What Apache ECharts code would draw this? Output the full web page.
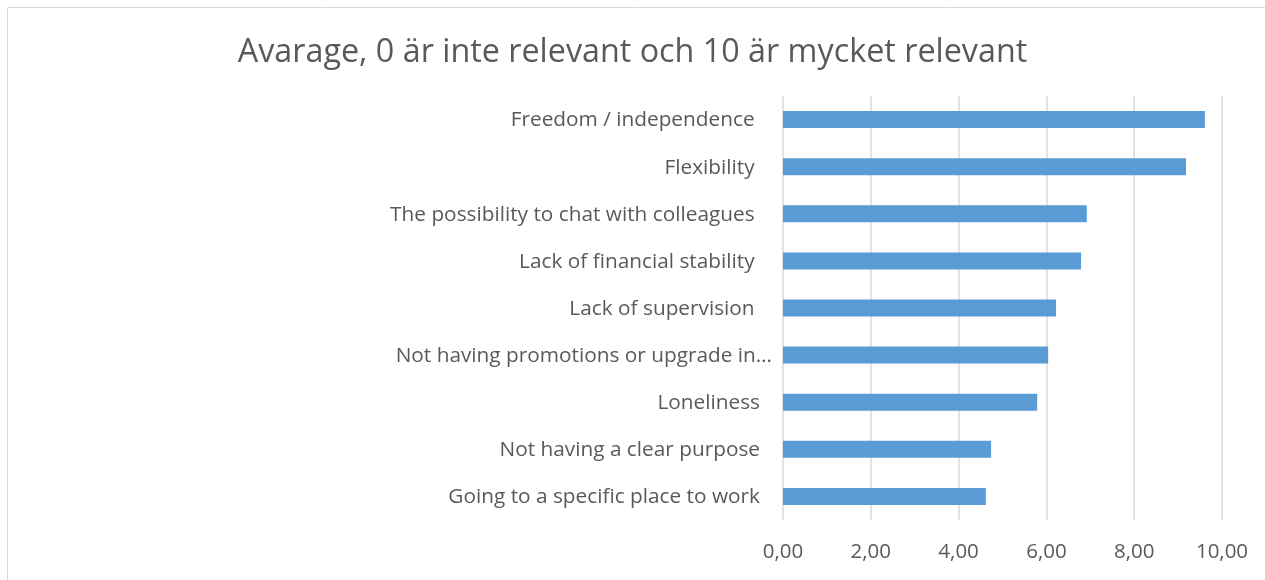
<!DOCTYPE html>
<html>
<head>
<meta charset="utf-8">
<script src="https://cdn.jsdelivr.net/npm/echarts@6/dist/echarts.min.js"></script>
<style>
html,body{margin:0;padding:0;background:#fff;}
#chart{width:1265px;height:580px;}
</style>
</head>
<body>
<div id="chart"></div>
<script>
const categories = [
  "Freedom / independence ",
  "Flexibility ",
  "The possibility to chat with colleagues ",
  "Lack of financial stability ",
  "Lack of supervision ",
  "Not having promotions or upgrade in…",
  "Loneliness",
  "Not having a clear purpose",
  "Going to a specific place to work"
];
const values = [9.61, 9.18, 6.92, 6.79, 6.22, 6.04, 5.79, 4.74, 4.62];
const titleText = "Avarage, 0 är inte relevant och 10 är mycket relevant";

const chart = echarts.init(document.getElementById('chart'));
chart.setOption({
  animation: false,
  backgroundColor: '#fff',
  title: {
    text: titleText,
    left: 'center',
    top: 32,
    textStyle: {fontFamily: 'Open Sans', fontSize: 32.3, fontWeight: 'normal', color: '#595959'}
  },
  graphic: [{
    type: 'rect',
    shape: {x: 7.5, y: 7.5, width: 1300, height: 620},
    style: {fill: 'none', stroke: '#d9d9d9', lineWidth: 1}
  }],
  grid: {left: 783, right: 43, top: 96, bottom: 60},
  xAxis: {
    type: 'value', min: 0, max: 10, interval: 2,
    axisLine: {show: false}, axisTick: {show: false},
    splitLine: {show: true, lineStyle: {color: '#d9d9d9', width: 1.5}},
    axisLabel: {
      margin: 22, fontFamily: 'Open Sans', fontSize: 20.5, color: '#595959',
      formatter: v => v.toFixed(2).replace('.', ',')
    }
  },
  yAxis: {
    type: 'category', data: categories, inverse: true,
    axisLine: {show: false}, axisTick: {show: false},
    axisLabel: {
      margin: 11, fontFamily: 'Open Sans', fontSize: 20.8, color: '#595959',
      formatter: v => v.endsWith('…') ? '{t|' + v + '}' : '{n|' + v + '}',
      rich: {
        n: {fontFamily: 'Open Sans', fontSize: 20.8, color: '#595959', padding: [2, 12, 0, 0]},
        t: {fontFamily: 'Open Sans', fontSize: 20.8, color: '#595959', padding: [2, 0, 0, 0]}
      }
    }
  },
  series: [{
    type: 'bar', data: values, barWidth: 17,
    itemStyle: {color: '#5b9bd5'}
  }]
});
</script>
</body>
</html>
